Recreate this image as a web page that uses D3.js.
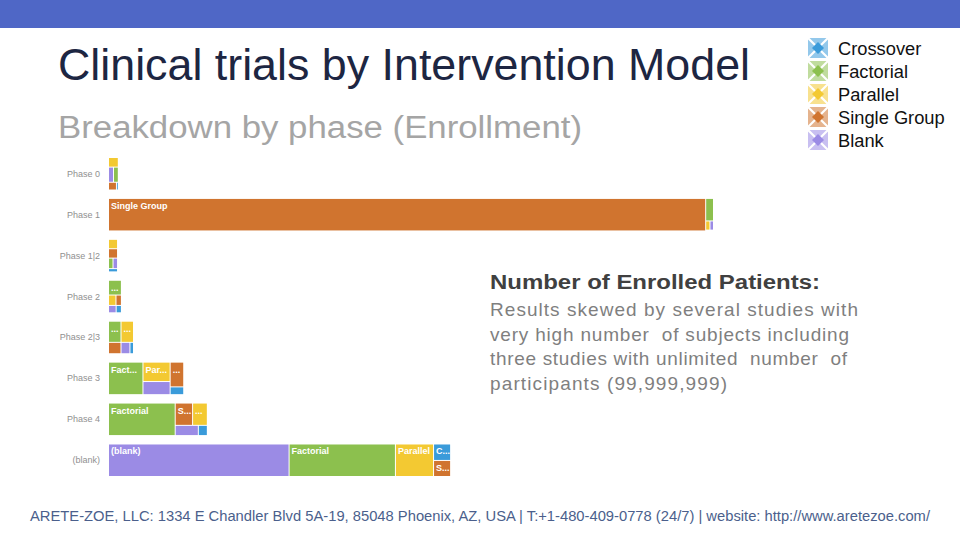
<!DOCTYPE html>
<html><head><meta charset="utf-8">
<script src="https://cdn.jsdelivr.net/npm/d3@7/dist/d3.min.js"></script>
<style>
html,body{margin:0;padding:0;background:#fff;}
svg{display:block;font-family:"Liberation Sans",Arial,sans-serif;}
</style></head>
<body><svg id="c" width="960" height="540"></svg>
<script>
// ---- data (enrollment, millions of patients, estimated) ----
const phases = ["Phase 0","Phase 1","Phase 1|2","Phase 2","Phase 2|3","Phase 3","Phase 4","(blank)"];
const models = ["Crossover","Factorial","Parallel","Single Group","Blank"];
const cellNames = ["Crossover","Factorial","Parallel","Single Group","(blank)"];
const crossover   = [0.2, 0.1, 0.4, 0.55, 0.6, 1.6, 1.4, 4.3];
const factorial   = [1.0, 2.7, 0.65, 2.7, 3.9, 17, 33, 53];
const parallel    = [1.3, 0.6, 1.16, 1.1, 3.9, 8, 5.0, 19];
const singleGroup = [0.85, 298, 1.16, 0.8, 2.1, 5.1, 5.9, 4.2];
const blank       = [1.05, 0.5, 0.65, 0.8, 1.5, 5.4, 3.6, 90];
const noteTitle = "Number of Enrolled Patients:";
const noteLines = ["Results skewed by several studies with","very high number  of subjects including","three studies with unlimited  number  of","participants (99,999,999)"];

const series = [crossover, factorial, parallel, singleGroup, blank];
const colors = ["#3A9BDA","#8CC04E","#F3C932","#D0742F","#9B8BE5"];

const svg = d3.select("#c");
// banner
svg.append("rect").attr("x",0).attr("y",0).attr("width",960).attr("height",28).attr("fill","#4F67C6");

// titles
svg.append("text").attr("x",58).attr("y",80).attr("font-size",44).attr("fill","#1D2642")
  .attr("textLength",692).attr("lengthAdjust","spacingAndGlyphs")
  .text("Clinical trials by Intervention Model");
svg.append("text").attr("x",58).attr("y",138).attr("font-size",31).attr("fill","#A5A5A5")
  .attr("textLength",524).attr("lengthAdjust","spacingAndGlyphs")
  .text("Breakdown by phase (Enrollment)");

// legend
const leg = svg.append("g");
models.forEach((m,i)=>{
  const cy = 48 + i*23;
  const g = leg.append("g").attr("transform",`translate(818,${cy})`);
  g.append("rect").attr("x",-10).attr("y",-10).attr("width",20).attr("height",20).attr("fill",colors[i]).attr("opacity",0.55);
  g.append("path").attr("d","M-10,-10L10,10M10,-10L-10,10").attr("stroke","#fff").attr("stroke-width",2.2);
  g.append("path").attr("d","M0,-6L6,0L0,6L-6,0Z").attr("fill",colors[i]);
  g.append("text").attr("x",20).attr("y",7).attr("font-size",18.3).attr("fill","#111").text(m);
});

// scales
const totals = phases.map((p,i)=>d3.sum(series,s=>s[i]));
const x = d3.scaleLinear().domain([0,d3.max(totals)]).range([0,604]);
const y = d3.scaleBand().domain(phases).range([158,476]).paddingInner(0.23).paddingOuter(0);
const x0 = 109;

// y labels
svg.append("g").selectAll("text").data(phases).join("text")
  .attr("x",100).attr("y",p=>y(p)+y.bandwidth()/2+3).attr("text-anchor","end")
  .attr("font-size",9).attr("fill","#909090").text(p=>p);

// treemap per phase
const chart = svg.append("g");
phases.forEach((p,i)=>{
  const w = x(totals[i]);
  const root = d3.hierarchy({children: models.map((m,j)=>({name:cellNames[j], k:j, value:series[j][i]}))})
     .sum(d=>d.value||0).sort((a,b)=>b.value-a.value);
  d3.treemap().tile(d3.treemapSquarify).size([w,y.bandwidth()]).paddingInner(1).round(false)(root);
  const g = chart.append("g").attr("transform",`translate(${x0},${y(p)})`);
  const cells = g.selectAll("g").data(root.leaves()).join("g");
  cells.append("rect").attr("x",d=>d.x0).attr("y",d=>d.y0)
    .attr("width",d=>Math.max(0,d.x1-d.x0)).attr("height",d=>Math.max(0,d.y1-d.y0))
    .attr("fill",d=>colors[d.data.k]);
  cells.each(function(d){
    const cw = d.x1-d.x0, ch = d.y1-d.y0;
    if (cw < 10 || ch < 13) return;
    const t = d3.select(this).append("text").attr("x",d.x0+2).attr("y",d.y0+10)
      .attr("font-size",9).attr("font-weight","bold").attr("fill","#fff");
    const full = d.data.name;
    t.text(full);
    const avail = cw-2;
    if (t.node().getComputedTextLength() <= avail) return;
    let n = full.length;
    while (n>0) {
      t.text(full.slice(0,n)+"...");
      if (t.node().getComputedTextLength() <= avail) return;
      n--;
    }
    t.text("...");
    if (t.node().getComputedTextLength() > avail+2) t.remove();
  });
});

// note text
svg.append("text").attr("x",490).attr("y",289).attr("font-size",19.5).attr("font-weight","bold")
  .attr("fill","#404040").attr("textLength",330).attr("lengthAdjust","spacingAndGlyphs").text(noteTitle);
const noteW = [368, 359, 357, 237];
svg.append("g").selectAll("text").data(noteLines).join("text")
  .attr("x",490).attr("y",(d,i)=>316+i*24.5).attr("font-size",19).attr("fill","#7F7F7F")
  .attr("textLength",(d,i)=>noteW[i]).attr("lengthAdjust","spacing")
  .style("white-space","pre").text(d=>d);

// footer
svg.append("text").attr("x",30).attr("y",521).attr("font-size",14).attr("fill","#4B5F8C")
  .attr("textLength",900).attr("lengthAdjust","spacingAndGlyphs")
  .text("ARETE-ZOE, LLC: 1334 E Chandler Blvd 5A-19, 85048 Phoenix, AZ, USA | T:+1-480-409-0778 (24/7) | website: http://www.aretezoe.com/");
</script></body></html>
